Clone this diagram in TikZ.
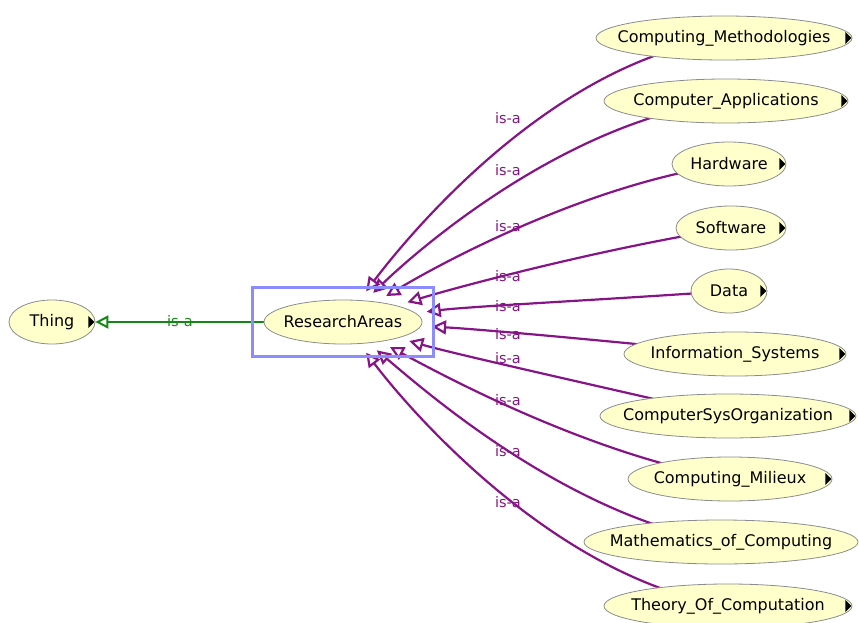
\documentclass[tikz,border=0pt]{standalone}
\usepackage{fontspec}
\setmainfont{DejaVu Sans}
\usetikzlibrary{shapes.geometric,arrows.meta,fit,backgrounds}
\definecolor{clsfill}{RGB}{255,255,204}
\definecolor{isapurple}{RGB}{134,20,134}
\definecolor{isagreen}{RGB}{20,135,20}
\definecolor{selblue}{RGB}{140,140,255}
\tikzset{
  cls/.style={ellipse, draw=black!45, fill=clsfill, line width=0.8pt, minimum height=44pt, inner sep=0pt, font=\fontsize{16}{18}\selectfont},
  isa/.style={draw=isapurple, line width=2.2pt, out looseness=1, in looseness=0.45, shorten >=11pt, -{Triangle[open, length=14pt, width=14pt]}},
  isalabel/.style={text=isapurple, font=\fontsize{14.5}{16}\selectfont, inner sep=0pt},
}
\newcommand{\cname}[1]{\makebox[0pt]{#1}}
\newcommand{\subsmark}[1]{\fill ([xshift=-7pt,yshift=6pt]#1.east) -- ([xshift=-7pt,yshift=-6pt]#1.east) -- ([xshift=-1pt]#1.east) -- cycle;}
\begin{document}
\begin{tikzpicture}[x=1pt,y=1pt]
    \useasboundingbox (0,0) rectangle (859,-623);
    % classes
    \node[cls, minimum width=86pt] (thing) at (52,-322) {\cname{Thing}};
    \node[cls, minimum width=158pt] (ra) at (343,-322) {\cname{ResearchAreas}};
    \node[cls, minimum width=256pt] (cm) at (724,-38) {\cname{Computing\_Methodologies}};
    \node[cls, minimum width=244pt] (ca) at (726,-101) {\cname{Computer\_Applications}};
    \node[cls, minimum width=114pt] (hw) at (729,-164) {\cname{Hardware}};
    \node[cls, minimum width=110pt] (sw) at (731,-228) {\cname{Software}};
    \node[cls, minimum width=76pt] (data) at (729,-291) {\cname{Data}};
    \node[cls, minimum width=222pt] (is) at (735,-354) {\cname{Information\_Systems}};
    \node[cls, minimum width=256pt] (cso) at (728,-416) {\cname{ComputerSysOrganization}};
    \node[cls, minimum width=204pt] (cmil) at (730,-479) {\cname{Computing\_Milieux}};
    \node[cls, minimum width=274pt] (math) at (721,-542) {\cname{Mathematics\_of\_Computing}};
    \node[cls, minimum width=248pt] (toc) at (728,-606) {\cname{Theory\_Of\_Computation}};
    \foreach \n in {thing,cm,ca,hw,sw,data,is,cso,cmil,toc}
        \subsmark{\n}
    % selection box
    \node[draw=selblue, line width=3.5pt, inner xsep=11pt, inner ysep=12pt, fit=(ra)] (sel) {};
    % is-a edges, behind the classes
    \begin{pgfonlayer}{background}
    \draw[draw=isagreen, line width=2pt, -{Triangle[open, length=13pt, width=13pt]}] (ra) -- (thing);
    \draw[isa] (cm.center) to[out=188, in=53] (ra);
    \draw[isa] (ca.center) to[out=187, in=44] (ra);
    \draw[isa] (hw.center) to[out=188, in=31] (ra);
    \draw[isa] (sw.center) to[out=189, in=17] (ra);
    \draw[isa] (data.center) to[out=184, in=7] (ra);
    \draw[isa] (is.center) to[out=174, in=-3] (ra);
    \draw[isa] (cso.center) to[out=167, in=-16] (ra);
    \draw[isa] (cmil.center) to[out=170, in=-28] (ra);
    \draw[isa] (math.center) to[out=170, in=-40] (ra);
    \draw[isa] (toc.center) to[out=171, in=-53] (ra);
    \end{pgfonlayer}
    \node[text=isagreen, font=\fontsize{14.5}{16}\selectfont, inner sep=0pt] (lthing) at (180,-321) {is-a};
    \node[isalabel] (l1) at (508,-118) {is-a};
    \node[isalabel] (l2) at (508,-170) {is-a};
    \node[isalabel] (l3) at (508,-226) {is-a};
    \node[isalabel] (l4) at (508,-276) {is-a};
    \node[isalabel] (l5) at (508,-306) {is-a};
    \node[isalabel] (l6) at (508,-334) {is-a};
    \node[isalabel] (l7) at (508,-358) {is-a};
    \node[isalabel] (l8) at (508,-400) {is-a};
    \node[isalabel] (l9) at (508,-451) {is-a};
    \node[isalabel] (l10) at (508,-502) {is-a};
\end{tikzpicture}
\end{document}
